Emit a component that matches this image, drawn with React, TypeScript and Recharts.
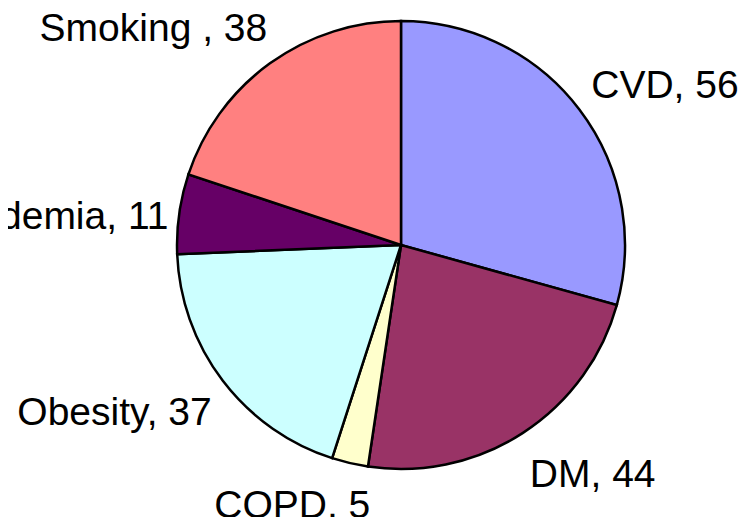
import React from 'react';
import { PieChart, Pie, Cell } from 'recharts';

const categories = ['CVD', 'DM', 'COPD', 'Obesity', 'Dyslipidemia', 'Smoking '];
const counts = [56, 44, 5, 37, 11, 38];
const sliceColors = ['#9999FF', '#993366', '#FFFFCC', '#CCFFFF', '#660066', '#FF8080'];

// hand placement of the data labels, as shifts from the default spot
const labelNudge: [number, number][] = [
  [-4, -12],
  [-4, 24],
  [25, 22],
  [5, 19],
  [9, 5],
  [9, -19],
];

const data = categories.map((name, i) => ({ name, value: counts[i] }));

const RADIAN = Math.PI / 180;

const renderLabel = (props: any) => {
  const { cx, cy, midAngle, outerRadius, index, name, value } = props;
  const r = outerRadius + 20;
  const cos = Math.cos(-midAngle * RADIAN);
  const sin = Math.sin(-midAngle * RADIAN);
  const x = cx + r * cos + labelNudge[index][0];
  const y = cy + r * sin + 13 + labelNudge[index][1];
  return (
    <text
      x={x}
      y={y}
      textAnchor={cos >= 0 ? 'start' : 'end'}
      fill="#000000"
      fontSize={39}
      fontFamily="'Liberation Sans', Arial, sans-serif"
    >
      {`${name}, ${value}`}
    </text>
  );
};

const App: React.FC = () => {
  return (
    <div style={{ margin: -8, width: 746, height: 525, background: '#ffffff' }}>
      <PieChart width={746} height={525} margin={{ top: 0, right: 0, bottom: 0, left: 0 }}>
        <Pie
          data={data}
          dataKey="value"
          nameKey="name"
          cx={401}
          cy={245}
          outerRadius={224}
          startAngle={90}
          endAngle={-270}
          stroke="#000000"
          strokeWidth={2.5}
          label={renderLabel}
          labelLine={false}
          isAnimationActive={false}
        >
          {data.map((entry, i) => (
            <Cell key={entry.name} fill={sliceColors[i]} />
          ))}
        </Pie>
      </PieChart>
    </div>
  );
};

export default App;
